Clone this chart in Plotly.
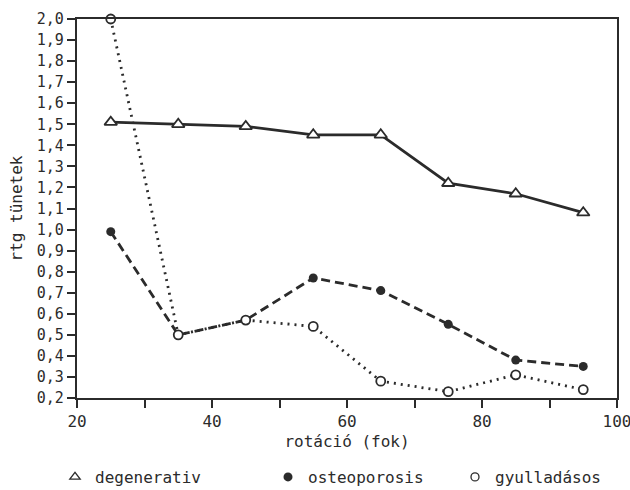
import plotly.graph_objects as go

# rotation angle (degrees) at which each group was measured
rotacio = [25, 35, 45, 55, 65, 75, 85, 95]

degenerativ = [1.51, 1.50, 1.49, 1.45, 1.45, 1.22, 1.17, 1.08]
osteoporosis = [0.99, 0.50, 0.57, 0.77, 0.71, 0.55, 0.38, 0.35]
gyulladasos = [2.00, 0.50, 0.57, 0.54, 0.28, 0.23, 0.31, 0.24]

series_names = ["degenerativ", "osteoporosis", "gyulladásos"]
y_ticks = [round(0.2 + 0.1 * i, 1) for i in range(19)]
x_ticks = [20, 40, 60, 80, 100]

INK = "#2b2b2b"
FONT = "DejaVu Sans Mono"

fig = go.Figure()

fig.add_trace(go.Scatter(
    x=rotacio, y=osteoporosis, mode="lines+markers", showlegend=False,
    line=dict(color=INK, width=2.8, dash="9px,5px"),
    marker=dict(symbol="circle", size=9, color=INK),
    cliponaxis=False,
))
fig.add_trace(go.Scatter(
    x=rotacio, y=gyulladasos, mode="lines+markers", showlegend=False,
    line=dict(color=INK, width=2.8, dash="2px,5px"),
    marker=dict(symbol="circle", size=9, color="white", line=dict(color=INK, width=1.8)),
    cliponaxis=False,
))
fig.add_trace(go.Scatter(
    x=rotacio, y=degenerativ, mode="lines+markers", showlegend=False,
    line=dict(color=INK, width=2.8),
    marker=dict(symbol="triangle-up", size=11, color="white", line=dict(color=INK, width=1.8)),
    cliponaxis=False,
))

# legend keys: symbols only, one legend box per group
legend_markers = [
    dict(symbol="triangle-up-open", size=9, color=INK, line=dict(width=1.3)),
    dict(symbol="circle", size=9, color=INK),
    dict(symbol="circle-open", size=8, color=INK, line=dict(width=1.3)),
]
legend_ids = ["legend", "legend2", "legend3"]
legend_x = [55, 268, 455]
for name, mk, lid in zip(series_names, legend_markers, legend_ids):
    fig.add_trace(go.Scatter(
        x=[None], y=[None], mode="markers", name=name, marker=mk,
        legend=lid, showlegend=True,
    ))

legend_common = dict(
    orientation="h", yref="container", y=1 - 477 / 490, yanchor="middle",
    xanchor="left", xref="container",
    bgcolor="rgba(0,0,0,0)", font=dict(family=FONT, size=16, color=INK),
    itemwidth=30, tracegroupgap=0,
)
layout_legends = {}
for lid, lx in zip(legend_ids, legend_x):
    layout_legends[lid] = dict(legend_common, x=lx / 630)

axis_common = dict(
    showline=True, linecolor=INK, linewidth=2.2, mirror=True,
    ticks="outside", ticklen=8, tickwidth=1.6, tickcolor=INK,
    showgrid=False, zeroline=False, automargin=False,
    tickfont=dict(family=FONT, size=15, color=INK),
)

fig.update_layout(
    width=630, height=490,
    margin=dict(l=77, r=13, t=19, b=92),
    paper_bgcolor="white", plot_bgcolor="white",
    separators=", ",
    xaxis=dict(
        axis_common, range=[20, 100], tickmode="array",
        tickvals=list(range(20, 101, 10)),
        ticktext=[str(v) if v in x_ticks else "" for v in range(20, 101, 10)],
        ticklabeloverflow="allow",
        tickfont=dict(family=FONT, size=16, color=INK),
        title=dict(text="rotáció (fok)", font=dict(family=FONT, size=16, color=INK), standoff=6),
    ),
    yaxis=dict(
        axis_common, range=[0.2, 2.0], tickmode="array",
        tickvals=y_ticks, ticktext=[f"{v:.1f}".replace(".", ",") for v in y_ticks],
        title=dict(text="rtg tünetek", font=dict(family=FONT, size=16, color=INK), standoff=10),
    ),
    **layout_legends,
)

fig.write_html("out.html")
